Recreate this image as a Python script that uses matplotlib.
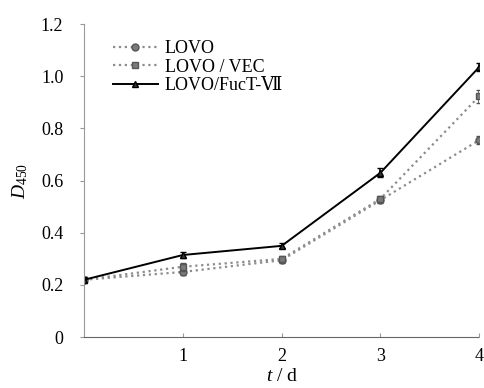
import numpy as np
import matplotlib
matplotlib.use('Agg')
import matplotlib.pyplot as plt

plt.rcParams['font.family'] = ['Liberation Serif', 'DejaVu Serif']
plt.rcParams['mathtext.fontset'] = 'custom'
plt.rcParams['mathtext.it'] = 'Liberation Serif:italic'
plt.rcParams['mathtext.rm'] = 'Liberation Serif'

days = [0, 1, 2, 3, 4]
lovo = [0.22, 0.25, 0.295, 0.525, 0.755]
lovo_err = [0.01, 0.012, 0.012, 0.012, 0.015]
lovo_vec = [0.22, 0.27, 0.30, 0.53, 0.923]
lovo_vec_err = [0.01, 0.015, 0.012, 0.012, 0.025]
lovo_fuct = [0.22, 0.315, 0.35, 0.63, 1.035]
lovo_fuct_err = [0.01, 0.012, 0.01, 0.018, 0.015]
labels = ['LOVO', 'LOVO / VEC', 'LOVO/FucT-Ⅶ']

fig = plt.figure(figsize=(4.84, 3.88), dpi=100)
ax = fig.add_axes([0.174, 0.131, 0.816, 0.807])

series = [
    (lovo, lovo_err, '#8c8c8c', ':', 'o', '#7a7a7a', '#555555'),
    (lovo_vec, lovo_vec_err, '#8c8c8c', ':', 's', '#7a7a7a', '#555555'),
    (lovo_fuct, lovo_fuct_err, 'black', '-', '^', '#333333', 'black'),
]
for (vals, err, col, ls, mk, mfc, mec), lab in zip(series, labels):
    ax.errorbar(days, vals, yerr=err, fmt='none', ecolor=mec, elinewidth=1.2, capsize=2.5)
    ax.plot(days, vals, color=col, ls=ls, lw=1.6 if ls == ':' else 1.4,
            marker=mk, ms=5, mfc=mfc, mec=mec, label=lab)

ax.set_xlim(0, 4)
ax.set_ylim(0, 1.2)
ax.set_xticks([1, 2, 3, 4])
ax.set_yticks([0, 0.2, 0.4, 0.6, 0.8, 1.0, 1.2])
ax.set_yticklabels(['0', '0.2', '0.4', '0.6', '0.8', '1.0', '1.2'])
ax.spines['top'].set_visible(False)
ax.spines['right'].set_visible(False)
ax.spines['left'].set_color('#999999')
ax.spines['bottom'].set_color('#666666')
ax.spines['bottom'].set_linestyle((0, (1, 1)))
ax.tick_params(axis='y', direction='out', length=3, color='#999999', labelsize=13, pad=12)
ax.tick_params(axis='x', direction='in', length=3, color='#999999', labelsize=13, pad=8)

ax.set_ylabel(r'$D_{450}$', fontsize=14, labelpad=8)
ax.set_xlabel(r'$t$ / d', fontsize=14, labelpad=2)

ax.legend(loc='upper left', bbox_to_anchor=(0.04, 0.99), frameon=False, fontsize=13,
          handlelength=2.5, handletextpad=0.4, labelspacing=0.1, borderaxespad=0.3)

fig.savefig('out.png', dpi=100)
